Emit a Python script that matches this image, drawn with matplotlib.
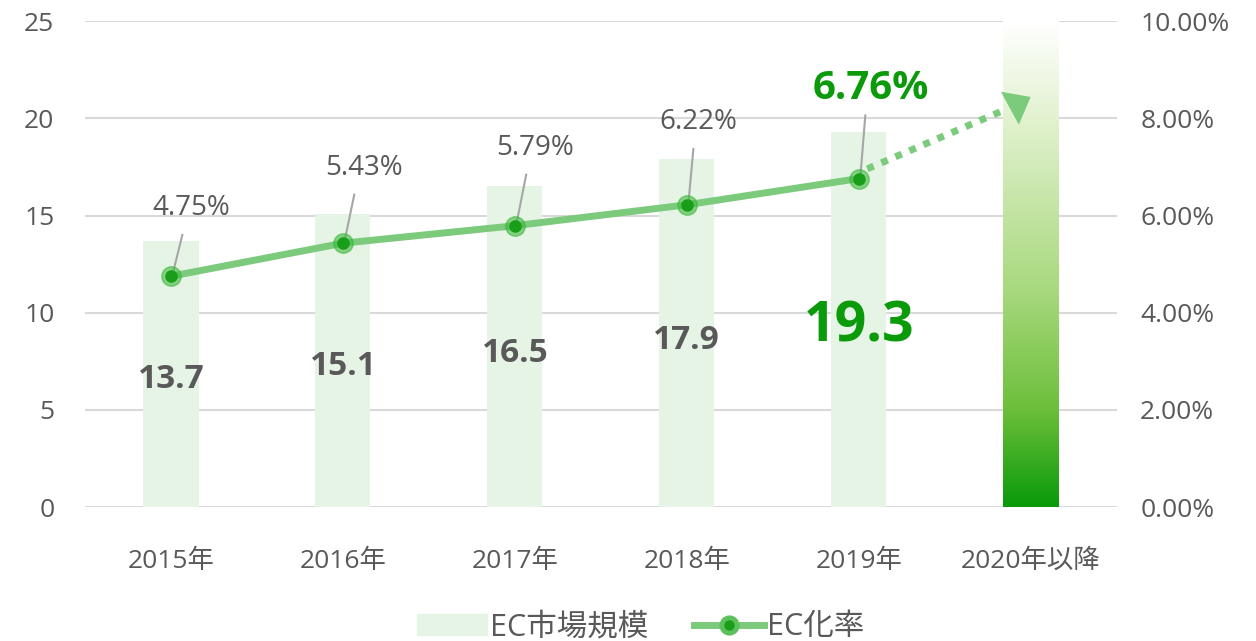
import matplotlib.pyplot as plt
import numpy as np
from matplotlib.colors import LinearSegmentedColormap
from matplotlib.lines import Line2D
from matplotlib.patches import Patch

plt.rcParams['font.family'] = ['Open Sans', 'Noto Sans CJK JP', 'DejaVu Sans']

categories = ['2015年', '2016年', '2017年', '2018年', '2019年', '2020年以降']
market_size = [13.7, 15.1, 16.5, 17.9, 19.3]
ec_rate = [4.75, 5.43, 5.79, 6.22, 6.76]
future_bar = 25
arrow_end = 8.44

gray = '#595959'
green = '#0a9a0a'
line_green = '#7cca7c'

fig = plt.figure(figsize=(12.56, 6.41), dpi=100)
ax = fig.add_axes([0.0677, 0.209, 0.8213, 0.758])
ax2 = ax.twinx()

x = np.arange(len(categories))
bw = 0.32

ax.bar(x[:5], market_size, width=bw, color='#e6f4e6', zorder=2)

# gradient bar for 2020+ (fades out toward the top)
cmap = LinearSegmentedColormap.from_list(
    'g', [(0, green), (0.2, '#6cbf3a'), (0.45, '#a9d97f'), (0.8, '#e2f2cf'), (1, '#ffffff')])
grad = np.linspace(0, 1, 256).reshape(-1, 1)
ax.imshow(grad, cmap=cmap, origin='lower', aspect='auto',
          extent=[x[5] - bw / 2, x[5] + bw / 2, 0, future_bar], zorder=2)

ax.set_xlim(-0.5, 5.5)
ax.set_ylim(0, 25)
ax.set_yticks(range(0, 26, 5))
ax.grid(axis='y', color='#d9d9d9', lw=1.5, zorder=0)
ax.set_xticks(x)
ax.set_xticklabels(categories)
for a in (ax, ax2):
    for s in a.spines.values():
        s.set_visible(False)
    a.tick_params(length=0, colors=gray, labelsize=19)
ax.tick_params(axis='x', pad=30, labelsize=19)
ax.tick_params(axis='y', pad=22)
ax2.tick_params(axis='y', pad=17)

ax2.set_ylim(0, 10)
ax2.set_yticks(range(0, 11, 2))
ax2.set_yticklabels([f'{v:.2f}%' for v in range(0, 11, 2)])

# value labels on bars
for i, v in enumerate(market_size):
    if i == 4:
        ax.text(x[i], v * 0.48, f'{v}', ha='center', va='center', fontsize=40,
                fontweight='bold', color=green, zorder=5)
    else:
        ax.text(x[i], v * 0.48, f'{v}', ha='center', va='center', fontsize=24,
                fontweight='bold', color=gray, zorder=5)

# EC rate line
ax2.plot(x[:5], ec_rate, color=line_green, lw=5, zorder=3, solid_capstyle='round')
ax2.plot(x[:5], ec_rate, 'o', ms=14, color='#3cb83c', alpha=0.6, zorder=4)
ax2.plot(x[:5], ec_rate, 'o', ms=8, color='#1a9e1a', zorder=4)

# dotted arrow toward 2020+
ax2.plot([x[4] + 0.05, x[5] - 0.14], [ec_rate[4] + 0.2, arrow_end - 0.25],
         color=line_green, lw=5, ls=(0, (1, 1.2)), dash_capstyle='butt', zorder=3)
ax2.annotate('', xy=(x[5], arrow_end), xytext=(x[5] - 0.13, arrow_end - 0.25),
             arrowprops=dict(arrowstyle='-|>,head_length=1.7,head_width=1.35',
                             color=line_green, lw=0, shrinkA=0, shrinkB=0), zorder=4)

# percentage labels with leader lines
label_offsets = [(0.12, 1.4), (0.12, 1.55), (0.12, 1.6), (0.07, 1.7), (0.07, 1.85)]
for i, v in enumerate(ec_rate):
    dx, dy = label_offsets[i]
    ax2.plot([x[i] + 0.01, x[i] + dx * 0.55], [v + 0.05, v + dy - 0.55],
             color='#a6a6a6', lw=1.5, zorder=3.5)
    if i == 4:
        ax2.text(x[i] + dx, v + dy, f'{v:.2f}%', ha='center', va='center',
                 fontsize=29, fontweight='bold', color=green)
    else:
        ax2.text(x[i] + dx, v + dy, f'{v:.2f}%', ha='center', va='center',
                 fontsize=20, color=gray)

handles = [Patch(color='#e6f4e6', label='EC市場規模'),
           Line2D([], [], color=line_green, lw=5, marker='o', ms=11,
                  markerfacecolor='#1a9e1a', markeredgecolor='#5cc05c', markeredgewidth=3.5,
                  label='EC化率')]
fig.legend(handles=handles, loc='lower center', bbox_to_anchor=(0.51, -0.045), ncol=2,
           frameon=False, fontsize=22, labelcolor=gray, handlelength=2.3,
           handletextpad=0.1, columnspacing=1.5)

fig.savefig('out.png', dpi=100)
